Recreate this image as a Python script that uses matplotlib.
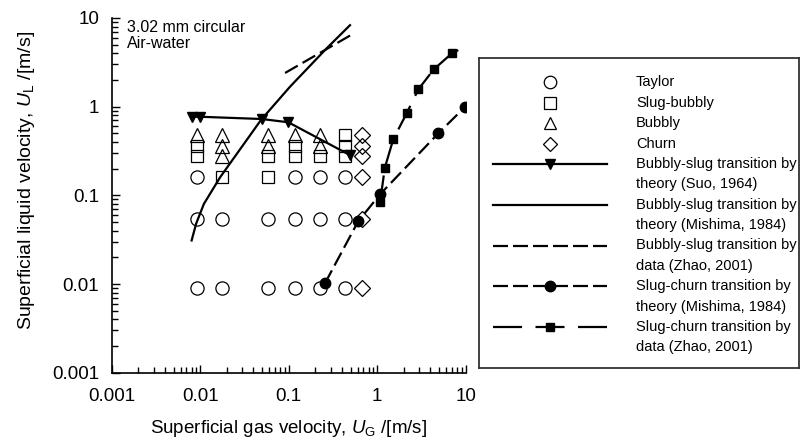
import matplotlib.pyplot as plt
from matplotlib.ticker import LogLocator, NullFormatter

plt.rcParams['font.family'] = ['Liberation Sans', 'DejaVu Sans']
plt.rcParams['mathtext.fontset'] = 'custom'
plt.rcParams['mathtext.rm'] = 'Liberation Sans'
plt.rcParams['mathtext.it'] = 'Liberation Sans:italic'
plt.rcParams['lines.scale_dashes'] = False

# ---------- observed flow patterns (UG, UL) in m/s ----------
taylor_ug = [0.0091, 0.118, 0.226, 0.43,
             0.0091, 0.0175, 0.059, 0.118, 0.226, 0.43,
             0.0091, 0.0175, 0.059, 0.118, 0.226, 0.43]
taylor_ul = [0.163, 0.163, 0.163, 0.163,
             0.054, 0.054, 0.054, 0.054, 0.054, 0.054,
             0.009, 0.009, 0.009, 0.009, 0.009, 0.009]

slugbub_ug = [0.0091, 0.0091, 0.0175, 0.059, 0.059, 0.118, 0.118, 0.226, 0.43, 0.43, 0.43]
slugbub_ul = [0.363, 0.28, 0.163, 0.28, 0.163, 0.363, 0.28, 0.28, 0.48, 0.363, 0.28]

bubbly_ug = [0.0091, 0.0175, 0.0175, 0.0175, 0.059, 0.059, 0.118, 0.226, 0.226]
bubbly_ul = [0.48, 0.48, 0.363, 0.28, 0.48, 0.363, 0.48, 0.48, 0.363]

churn_ug = [0.67, 0.67, 0.67, 0.67, 0.67, 0.67]
churn_ul = [0.48, 0.363, 0.28, 0.163, 0.054, 0.009]

# ---------- transition lines ----------
suo_ug = [0.0080, 0.0099, 0.0496, 0.099, 0.49]
suo_ul = [0.77, 0.77, 0.726, 0.667, 0.285]

mish_bs_ug = [0.0080, 0.0090, 0.0110, 0.0168, 0.0486, 0.1035, 0.2685, 0.493]
mish_bs_ul = [0.031, 0.048, 0.080, 0.160, 0.708, 1.68, 4.55, 8.3]

zhao_bs_ug = [0.091, 0.53]
zhao_bs_ul = [2.4, 6.6]

mish_sc_ug = [0.257, 0.61, 1.08, 4.9, 9.9]
mish_sc_ul = [0.0102, 0.051, 0.103, 0.5, 1.0]

zhao_sc_ug = [1.08, 1.22, 1.52, 2.15, 2.92, 4.35, 6.95, 10.0]
zhao_sc_ul = [0.085, 0.205, 0.43, 0.84, 1.57, 2.63, 3.98, 4.8]

x_ticks = [0.001, 0.01, 0.1, 1, 10]
x_labels = ['0.001', '0.01', '0.1', '1', '10']
y_ticks = [0.001, 0.01, 0.1, 1, 10]
y_labels = ['0.001', '0.01', '0.1', '1', '10']

W, H = 803, 443
fig = plt.figure(figsize=(W / 100, H / 100), dpi=100)
ax = fig.add_axes([111.7 / W, 1 - 372.7 / H, 354 / W, 354.7 / H])
ax.set_xscale('log')
ax.set_yscale('log')

open_kw = dict(linestyle='none', mfc='none', mec='black', mew=0.9)
sty = {
    'Taylor': dict(marker='o', ms=9.5, **open_kw),
    'Slug-bubbly': dict(marker='s', ms=8.5, **open_kw),
    'Bubbly': dict(marker='^', ms=9.5, **open_kw),
    'Churn': dict(marker='D', ms=8, **open_kw),
    'suo': dict(color='black', lw=1.6, marker='v', ms=7, mfc='black', mec='black'),
    'mish_bs': dict(color='black', lw=1.6),
    'zhao_bs': dict(color='black', lw=1.6, dashes=(10.5, 4)),
    'mish_sc': dict(color='black', lw=1.6, dashes=(10.5, 4), marker='o', ms=7.5, mfc='black', mec='black'),
    'zhao_sc': dict(color='black', lw=1.6, dashes=(19, 8), marker='s', ms=6, mfc='black', mec='black'),
}

ax.plot(taylor_ug, taylor_ul, **sty['Taylor'])
ax.plot(slugbub_ug, slugbub_ul, **sty['Slug-bubbly'])
ax.plot(bubbly_ug, bubbly_ul, **sty['Bubbly'])
ax.plot(churn_ug, churn_ul, **sty['Churn'])

ax.plot(suo_ug, suo_ul, **sty['suo'])
ax.plot(mish_bs_ug, mish_bs_ul, **sty['mish_bs'])
ax.plot(zhao_bs_ug, zhao_bs_ul, **sty['zhao_bs'])
ax.plot(mish_sc_ug, mish_sc_ul, **sty['mish_sc'])
ax.plot(zhao_sc_ug, zhao_sc_ul, markevery=list(range(len(zhao_sc_ug) - 1)), **sty['zhao_sc'])

ax.set_xlim(0.001, 10)
ax.set_ylim(0.001, 10)
ax.set_xticks(x_ticks, x_labels)
ax.set_yticks(y_ticks, y_labels)
for axis in (ax.xaxis, ax.yaxis):
    axis.set_minor_locator(LogLocator(base=10, subs=range(2, 10), numticks=50))
    axis.set_minor_formatter(NullFormatter())
ax.tick_params(which='both', direction='in', labelsize=13.5, width=1, color='black')
ax.tick_params(which='major', length=6)
ax.tick_params(which='minor', length=4)
ax.tick_params(axis='y', pad=9)
ax.tick_params(axis='x', pad=11)
for s in ['top', 'right']:
    ax.spines[s].set_visible(False)
for s in ['left', 'bottom']:
    ax.spines[s].set_linewidth(1.2)

ax.set_xlabel(r'Superficial gas velocity, $\mathit{U}_\mathrm{G}$ /[m/s]', fontsize=13.5)
ax.set_ylabel(r'Superficial liquid velocity, $\mathit{U}_\mathrm{L}$ /[m/s]', fontsize=14)
ax.xaxis.set_label_coords(0.5, -0.128)
ax.yaxis.set_label_coords(-0.21, 0.543)

ax.text(0.043, 0.9746, '3.02 mm circular', transform=ax.transAxes,
        fontsize=11.5, va='center', ha='left')
ax.text(0.043, 0.9295, 'Air-water', transform=ax.transAxes,
        fontsize=11.5, va='center', ha='left')

# ---------- legend box (drawn in its own axes, pixel units) ----------
lx0, lx1, ly0, ly1 = 479.3, 799, 58, 368
lax = fig.add_axes([lx0 / W, 1 - ly1 / H, (lx1 - lx0) / W, (ly1 - ly0) / H])
lax.set_xlim(lx0, lx1)
lax.set_ylim(ly1, ly0)
lax.set_xticks([])
lax.set_yticks([])
for s in lax.spines.values():
    s.set_edgecolor('#333333')
    s.set_linewidth(1.3)

entries = [
    ('Taylor', 'Taylor'),
    ('Slug-bubbly', 'Slug-bubbly'),
    ('Bubbly', 'Bubbly'),
    ('Churn', 'Churn'),
    ('suo', 'Bubbly-slug transition by\ntheory (Suo, 1964)'),
    ('mish_bs', 'Bubbly-slug transition by\ntheory (Mishima, 1984)'),
    ('zhao_bs', 'Bubbly-slug transition by\ndata (Zhao, 2001)'),
    ('mish_sc', 'Slug-churn transition by\ntheory (Mishima, 1984)'),
    ('zhao_sc', 'Slug-churn transition by\ndata (Zhao, 2001)'),
]
row = 0
row_h = 20.4
for key, label in entries:
    y = 82.3 + row * row_h
    kw = dict(sty[key])
    if key in ('Taylor', 'Slug-bubbly', 'Bubbly', 'Churn'):
        kw['ms'] = kw['ms'] - 0.5
        lax.plot([550], [y], **kw)
    else:
        mk = kw.pop('marker', None)
        ms = kw.pop('ms', None)
        for k in ('mfc', 'mec'):
            kw.pop(k, None)
        if key == 'zhao_sc':
            kw.pop('dashes')
            lax.plot([493, 607], [y, y], linestyle=(0, (20.9, 9.7)), **kw)
        elif key in ('zhao_bs', 'mish_sc'):
            kw.pop('dashes')
            lax.plot([493, 607], [y, y], linestyle=(0, (10.8, 3.6)), **kw)
        else:
            lax.plot([493, 607], [y, y], **kw)
        if mk:
            lax.plot([550], [y], marker=mk, ms=ms, color='black', linestyle='none')
    for i, line in enumerate(label.split('\n')):
        lax.text(636, y + i * row_h, line, fontsize=10.5, va='center', ha='left')
    row += len(label.split('\n'))

fig.savefig('out.png', dpi=100)
